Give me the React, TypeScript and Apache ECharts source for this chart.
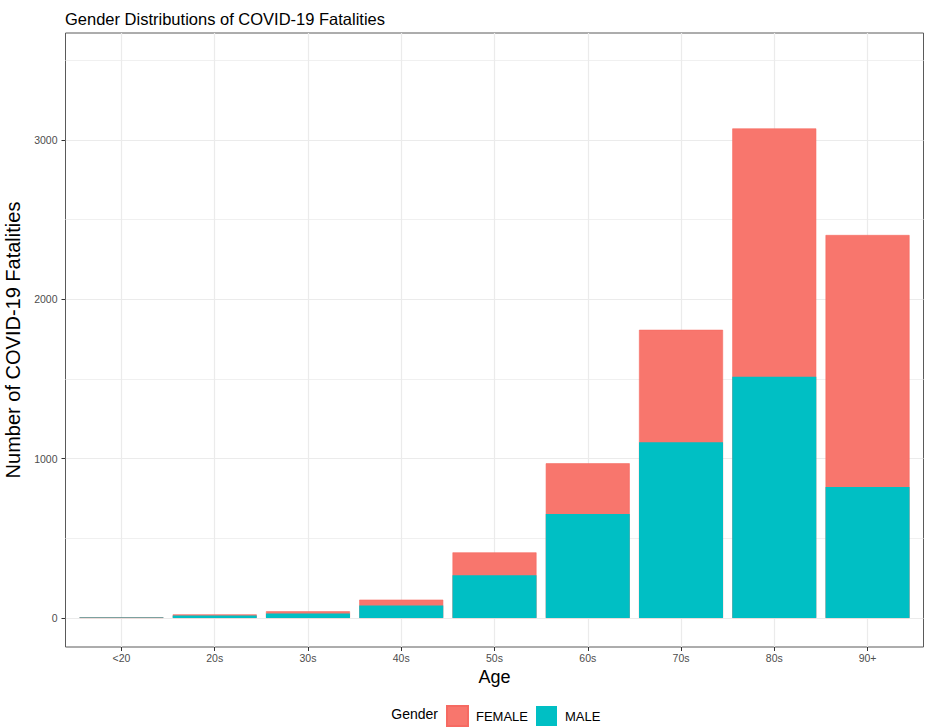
import React, { useEffect, useRef } from "react";
import * as echarts from "echarts";

const categories = ["<20", "20s", "30s", "40s", "50s", "60s", "70s", "80s", "90+"];
const maleValues = [3, 15, 29, 78, 268, 653, 1103, 1515, 822];
const femaleValues = [2, 8, 13, 37, 144, 318, 706, 1558, 1582];
const yMajorTicks = [0, 1000, 2000, 3000];
const yMinorTicks = [500, 1500, 2500, 3500];
const xTickPositions = categories.map((_, i) => i);

const FONT = "'Liberation Sans', Arial, Helvetica, sans-serif";

export default function App() {
  const ref = useRef<HTMLDivElement>(null);
  useEffect(() => {
    if (!ref.current) return;
    const chart = echarts.init(ref.current, null, { renderer: "svg" });
    // stacked totals: female segment sits on top of the male segment
    const totals = maleValues.map((m, i) => m + femaleValues[i]);
    chart.setOption({
      animation: false,
      backgroundColor: "#ffffff",
      textStyle: { fontFamily: FONT },
      title: {
        text: "Gender Distributions of COVID-19 Fatalities",
        left: 60,
        top: 5,
        textStyle: { fontSize: 16.5, fontWeight: "normal", color: "#000", fontFamily: FONT },
      },
      grid: {
        left: 65.5,
        right: 4.5,
        top: 33,
        bottom: 81,
        outerBoundsMode: "none",
        containLabel: false,
        show: true,
        borderColor: "#5a5a5a",
        borderWidth: 1,
        backgroundColor: "transparent",
      },
      xAxis: {
        type: "value",
        min: -0.6,
        max: 8.6,
        name: "Age",
        nameLocation: "middle",
        nameGap: 20,
        nameTextStyle: { fontSize: 18, color: "#000", fontFamily: FONT, verticalAlign: "top" },
        axisLine: { show: false, onZero: false },
        axisTick: { show: true, length: 4, customValues: xTickPositions, lineStyle: { color: "#333" } },
        axisLabel: {
          customValues: xTickPositions,
          formatter: (v: number) => categories[Math.round(v)] ?? "",
          fontSize: 10.5,
          color: "#4d4d4d",
          margin: 5,
          fontFamily: FONT,
        },
        splitLine: { show: true, lineStyle: { color: "#ebebeb", width: 1.2 } },
      },
      yAxis: [
        {
          type: "value",
          min: -182,
          max: 3672,
          name: "Number of COVID-19 Fatalities",
          nameLocation: "middle",
          nameGap: 9,
          nameTextStyle: { fontSize: 20, color: "#000", fontFamily: FONT },
          axisLine: { show: false, onZero: false },
          axisTick: { show: true, length: 4, customValues: yMajorTicks, lineStyle: { color: "#333" } },
          axisLabel: {
            customValues: yMajorTicks,
            formatter: (v: number) => String(v),
            fontSize: 10.5,
            color: "#4d4d4d",
            margin: 8,
            fontFamily: FONT,
          },
          splitLine: { show: true, lineStyle: { color: "#ebebeb", width: 1.2 } },
        },
        {
          type: "value",
          min: -182,
          max: 3672,
          position: "left",
          axisLine: { show: false, onZero: false },
          axisTick: { show: false, customValues: yMinorTicks },
          axisLabel: { show: false, customValues: yMinorTicks },
          splitLine: { show: true, lineStyle: { color: "#f0f0f0", width: 1 } },
        },
      ],
      legend: {
        left: 446,
        top: 705,
        padding: 0,
        itemWidth: 21,
        itemHeight: 20,
        itemGap: 8,
        icon: "rect",
        data: ["FEMALE", "MALE"],
        textStyle: { fontSize: 13, color: "#000", fontFamily: FONT, padding: [0, 0, 0, 3] },
      },
      graphic: [
        {
          type: "text",
          right: 928 - 438,
          top: 707,
          style: { text: "Gender", fontSize: 14, fill: "#000", fontFamily: FONT },
        },
      ],
      series: [
        {
          name: "FEMALE",
          type: "bar",
          barWidth: 84,
          barGap: "-100%",
          z: 3,
          itemStyle: { color: "#F8766D", borderColor: "#f66a62", borderWidth: 0.6 },
          data: totals.map((v, i) => [i, v]),
        },
        {
          name: "MALE",
          type: "bar",
          barWidth: 84,
          barGap: "-100%",
          z: 4,
          itemStyle: { color: "#00BFC4" },
          data: maleValues.map((v, i) => [i, v]),
        },
      ],
    });
    return () => chart.dispose();
  }, []);
  return (
    <div
      ref={ref}
      style={{ position: "fixed", left: 0, top: 0, width: 928, height: 728 }}
    />
  );
}
